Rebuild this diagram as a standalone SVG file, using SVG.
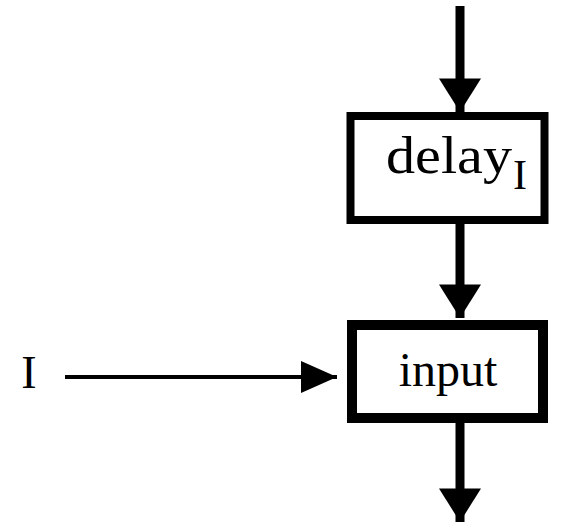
<svg xmlns="http://www.w3.org/2000/svg" width="576" height="525" viewBox="0 0 576 525">
<style>
.box{fill:#fff;stroke:#000}
.ln{stroke:#000;fill:none}
.t{font-family:"Liberation Serif",serif;fill:#000}
</style>
<defs>
<marker id="ah" markerUnits="userSpaceOnUse" markerWidth="42" markerHeight="42" viewBox="0 0 32 40" refX="32" refY="20" orient="auto">
<path d="M0,0 L32,20 L0,40 Z" fill="#000"/>
</marker>
<marker id="ahs" markerUnits="userSpaceOnUse" markerWidth="36" markerHeight="36" viewBox="0 0 36 32" refX="36" refY="16" orient="auto">
<path d="M0,0 L36,16 L0,32 Z" fill="#000"/>
</marker>
</defs>
<g id="connectors">
<line class="ln" x1="460" y1="6" x2="460" y2="112" stroke-width="9" marker-end="url(#ah)"/>
<line class="ln" x1="460" y1="222" x2="460" y2="318" stroke-width="9" marker-end="url(#ah)"/>
<line class="ln" x1="460" y1="420" x2="460" y2="522" stroke-width="9" marker-end="url(#ah)"/>
<line class="ln" x1="65" y1="377" x2="337" y2="377" stroke-width="4" marker-end="url(#ahs)"/>
</g>
<g id="delay">
<rect class="box" x="350.5" y="116" width="194" height="104" stroke-width="8"/>
<text class="t" x="386" y="173" font-size="52"><tspan textLength="126" lengthAdjust="spacingAndGlyphs">delay</tspan><tspan font-size="42" x="513" y="189">I</tspan></text>
</g>
<g id="input">
<rect class="box" x="352" y="325" width="191" height="93" stroke-width="10"/>
<text class="t" x="448" y="386" font-size="48" text-anchor="middle">input</text>
</g>
<g id="I">
<text class="t" x="29" y="388" font-size="46" text-anchor="middle">I</text>
</g>
</svg>
